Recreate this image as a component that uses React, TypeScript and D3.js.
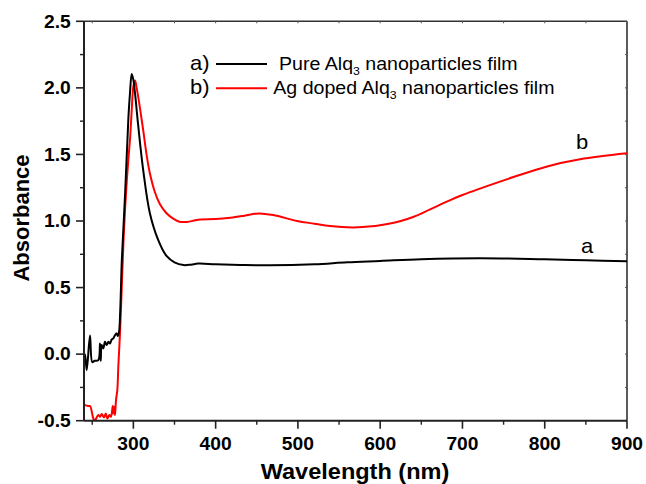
import React from "react";
import * as d3 from "d3";

const wlA = [240, 241.2, 243.3, 247.3, 250.1, 253, 257.4, 259.5, 260.3, 261.5, 263.5, 265.5, 267.6, 269.6, 271.6, 273.7, 275.6, 277.7, 279.7, 281, 282.6, 284, 286, 290, 294, 296, 298, 300, 302, 306, 312, 320, 330, 340, 350, 361, 370, 378.7, 400, 430, 466, 520, 560, 600, 650, 722, 800, 850, 900];
const absA = [-0.02, 0.0, -0.12, 0.14, -0.06, -0.05, -0.045, 0.08, -0.05, 0.068, 0.043, 0.093, 0.068, 0.093, 0.08, 0.11, 0.118, 0.143, 0.156, 0.136, 0.168, 0.32, 0.71, 1.21, 1.78, 1.97, 2.105, 2.06, 1.96, 1.71, 1.38, 1.06, 0.86, 0.74, 0.69, 0.669, 0.672, 0.68, 0.675, 0.67, 0.667, 0.675, 0.69, 0.70, 0.713, 0.72, 0.712, 0.705, 0.697];

const wlB = [240, 245, 247.3, 251.3, 253, 257.4, 259.5, 261.5, 264.3, 266.4, 268.4, 270.8, 272.8, 274.9, 275.6, 276.9, 277.7, 278.9, 280.5, 281.7, 283.8, 286, 288, 290, 292, 294, 296, 298, 300, 302, 304, 308, 312, 316, 320, 326, 332, 340, 348, 356, 365, 375, 381, 400, 418, 435, 452, 470, 499, 520, 539, 567, 590, 612, 625, 640, 660, 681, 700, 722, 762, 803, 843, 900];
const absB = [-0.38, -0.39, -0.39, -0.483, -0.5, -0.458, -0.47, -0.45, -0.475, -0.445, -0.483, -0.458, -0.47, -0.39, -0.445, -0.395, -0.458, -0.345, -0.27, -0.095, 0.16, 0.52, 0.85, 1.1, 1.3, 1.47, 1.62, 1.83, 2.01, 2.055, 2.0, 1.85, 1.68, 1.5, 1.36, 1.22, 1.13, 1.06, 1.02, 0.995, 0.993, 1.005, 1.012, 1.015, 1.025, 1.04, 1.057, 1.045, 1.0, 0.98, 0.962, 0.952, 0.96, 0.982, 1.0, 1.03, 1.085, 1.145, 1.195, 1.245, 1.33, 1.41, 1.463, 1.508];

const xMajor = [300, 400, 500, 600, 700, 800, 900];
const xMinor = [250, 350, 450, 550, 650, 750, 850];
const yMajor = [-0.5, 0.0, 0.5, 1.0, 1.5, 2.0, 2.5];
const yMinor = [-0.25, 0.25, 0.75, 1.25, 1.75, 2.25];

const legendLabels = ["a)", "b)"];
const legendTexts = [["Pure Alq", "3", " nanoparticles film"], ["Ag doped Alq", "3", " nanoparticles film"]];
const seriesColors = ["#000000", "#ff0000"];

const L = 84, R = 627, T = 21.3, B = 420.7;
const FONT = "'Liberation Sans', Arial, Helvetica, sans-serif";

export default function App() {
  const x = d3.scaleLinear().domain([240, 900]).range([L, R]);
  const y = d3.scaleLinear().domain([-0.5, 2.5]).range([B, T]);
  const line = d3.line<[number, number]>().x(d => x(d[0])).y(d => y(d[1])).curve(d3.curveCatmullRom.alpha(0.5));
  const dA = line(wlA.map((w, i) => [w, absA[i]] as [number, number])) || "";
  const dB = line(wlB.map((w, i) => [w, absB[i]] as [number, number])) || "";
  const sx = 1.1;

  return (
    <svg width={646} height={484} style={{ position: "absolute", left: 0, top: 0, background: "#fff" }} fontFamily={FONT}>
      <defs>
        <clipPath id="plotclip"><rect x={L} y={T - 2} width={R - L} height={B - T + 2} /></clipPath>
      </defs>
      {/* frame */}
      <line x1={L} x2={R} y1={T} y2={T} stroke="#333" strokeWidth={1.6} />
      <line x1={R} x2={R} y1={T} y2={B} stroke="#333" strokeWidth={1.6} />
      {/* top/right tiny ticks */}
      {xMajor.concat(xMinor).map(v => (
        <line key={"tt" + v} x1={x(v)} x2={x(v)} y1={T} y2={T + 2} stroke="#555" strokeWidth={1} />
      ))}
      {yMajor.concat(yMinor).map(v => (
        <line key={"rt" + v} x1={R} x2={R - 2} y1={y(v)} y2={y(v)} stroke="#555" strokeWidth={1} />
      ))}
      {/* curves */}
      <g clipPath="url(#plotclip)">
        <path d={dB} fill="none" stroke={seriesColors[1]} strokeWidth={2} />
        <path d={dA} fill="none" stroke={seriesColors[0]} strokeWidth={2} />
      </g>
      {/* left & bottom axes */}
      <line x1={L} x2={L} y1={T} y2={B} stroke="#222" strokeWidth={2} />
      <line x1={L} x2={R} y1={B} y2={B} stroke="#222" strokeWidth={2} />
      {yMajor.map(v => (
        <g key={"ym" + v}>
          <line x1={L - 8} x2={L} y1={y(v)} y2={y(v)} stroke="#222" strokeWidth={1.6} />
          <text transform={`translate(70.7,${y(v)}) scale(${sx},1)`} textAnchor="end" dy="0.36em" fontSize={17.5} fontWeight="bold">{v.toFixed(1)}</text>
        </g>
      ))}
      {yMinor.map(v => (
        <line key={"yn" + v} x1={L - 4} x2={L} y1={y(v)} y2={y(v)} stroke="#222" strokeWidth={1.4} />
      ))}
      {xMajor.map(v => (
        <g key={"xm" + v}>
          <line x1={x(v)} x2={x(v)} y1={B} y2={B + 8} stroke="#222" strokeWidth={1.6} />
          <text transform={`translate(${x(v)},450) scale(${sx},1)`} textAnchor="middle" fontSize={17.5} fontWeight="bold">{v}</text>
        </g>
      ))}
      {xMinor.map(v => (
        <line key={"xn" + v} x1={x(v)} x2={x(v)} y1={B} y2={B + 4} stroke="#222" strokeWidth={1.4} />
      ))}
      {/* axis titles */}
      <text transform={`translate(355,479) scale(1.07,1)`} textAnchor="middle" fontSize={22} fontWeight="bold">Wavelength (nm)</text>
      <text transform={`translate(29,218) rotate(-90)`} textAnchor="middle" fontSize={22} fontWeight="bold">Absorbance</text>
      {/* legend */}
      {legendLabels.map((lab, i) => {
        const by = i === 0 ? 69.5 : 94;
        const ly = i === 0 ? 64 : 88.3;
        const tx = i === 0 ? 279 : 273.3;
        return (
          <g key={"lg" + i}>
            <text transform={`translate(190,${by}) scale(1.1,1)`} fontSize={20}>{lab}</text>
            <line x1={216} x2={267} y1={ly} y2={ly} stroke={seriesColors[i]} strokeWidth={2} />
            <text transform={`translate(${tx},${by}) scale(1.12,1)`} fontSize={17.5}>
              {legendTexts[i][0]}
              <tspan fontSize={11} dy={5}>{legendTexts[i][1]}</tspan>
              <tspan dy={-5}>{legendTexts[i][2]}</tspan>
            </text>
          </g>
        );
      })}
      {/* curve labels */}
      <text transform={`translate(576,148.5) scale(1.1,1)`} fontSize={20}>b</text>
      <text transform={`translate(581,253) scale(1.1,1)`} fontSize={20}>a</text>
    </svg>
  );
}
